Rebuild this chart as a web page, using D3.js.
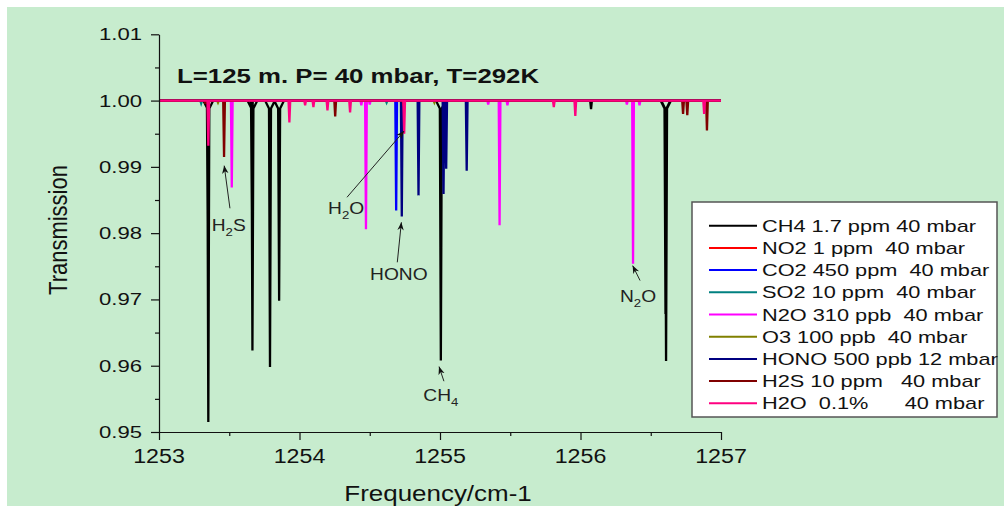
<!DOCTYPE html>
<html><head><meta charset="utf-8">
<script src="https://cdn.jsdelivr.net/npm/d3@7/dist/d3.min.js"></script>
<style>
html,body{margin:0;padding:0;background:#fff;}
svg text{font-family:"Liberation Sans",Arial,sans-serif;white-space:pre;}
</style></head>
<body>
<svg id="chart" width="1004" height="506"></svg>
<script>
// ---------- data ----------
const freqTicks = [1253, 1254, 1255, 1256, 1257];
const freqMinorTicks = [1253.5, 1254.5, 1255.5, 1256.5];
const transTicks = [0.95, 0.96, 0.97, 0.98, 0.99, 1.00, 1.01];
const transMinorTicks = [0.955, 0.965, 0.975, 0.985, 0.995, 1.005];

const seriesNames = ["CH4 1.7 ppm 40 mbar", "NO2 1 ppm  40 mbar", "CO2 450 ppm  40 mbar",
  "SO2 10 ppm  40 mbar", "N2O 310 ppb  40 mbar", "O3 100 ppb  40 mbar",
  "HONO 500 ppb 12 mbar", "H2S 10 ppm   40 mbar", "H2O  0.1%      40 mbar"];
const seriesColors = ["#000000", "#ff0000", "#0000ff", "#008080", "#ff00ff", "#808000", "#000080", "#800000", "#ff0080"];

// absorption lines: [frequency cm-1, minimum transmission]
const ch4Lines = [[1253.347, 0.9800], [1253.351, 0.9515], [1253.661, 0.9832], [1253.665, 0.9623],
  [1253.790, 0.9598], [1253.855, 0.9698], [1255.006, 0.9608], [1256.075, 0.9987], [1256.605, 0.9678], [1256.609, 0.9607]];
const no2Lines = [];
const co2Lines = [[1254.688, 0.9834]];
const so2Lines = [[1253.30, 0.9996], [1254.62, 0.9997]];
const n2oLines = [[1253.518, 0.9869], [1254.440, 0.9993], [1254.473, 0.9806], [1254.500, 0.9994],
  [1255.343, 0.9994], [1255.424, 0.9812], [1255.480, 0.9993], [1256.330, 0.9994], [1256.374, 0.9754], [1256.420, 0.9993]];
const o3Lines = [[1253.42, 0.9997], [1254.96, 0.9997]];
const honoLines = [[1254.728, 0.9825], [1254.847, 0.9857], [1255.025, 0.9859], [1255.044, 0.9897], [1255.190, 0.9894]];
const h2sLines = [[1253.330, 0.9995], [1253.463, 0.9915], [1254.254, 0.9976], [1254.740, 0.9992],
  [1256.730, 0.9980], [1256.760, 0.9978], [1256.900, 0.9955]];
const h2oLines = [[1253.351, 0.9932], [1253.928, 0.9967], [1254.040, 0.9993], [1254.099, 0.9990],
  [1254.199, 0.9985], [1254.360, 0.9982], [1254.745, 0.9950], [1255.810, 0.9990], [1255.963, 0.9977], [1256.880, 0.9980]];
const seriesLines = [ch4Lines, no2Lines, co2Lines, so2Lines, n2oLines, o3Lines, honoLines, h2sLines, h2oLines];

// annotations: label parts, text anchor position (freq, trans), arrow from -> to
const annotations = [
  {parts: ["H", "2", "S"], tf: 1253.375, tt: 0.98028, f0: 1253.505, t0: 0.98375, f1: 1253.464, t1: 0.99019},
  {parts: ["H", "2", "O"], tf: 1254.203, tt: 0.98285, f0: 1254.338, t0: 0.98541, f1: 1254.744, t1: 0.99540},
  {parts: ["HONO"], tf: 1254.502, tt: 0.97293, f0: 1254.696, t0: 0.97560, f1: 1254.725, t1: 0.98164},
  {parts: ["CH", "4", ""], tf: 1254.881, tt: 0.95463, f0: 1255.028, t0: 0.95766, f1: 1254.993, t1: 0.95987},
  {parts: ["N", "2", "O"], tf: 1256.281, tt: 0.96957, f0: 1256.424, t0: 0.97285, f1: 1256.371, t1: 0.97511}
];
const titleText = "L=125 m. P= 40 mbar, T=292K";
const xTitle = "Frequency/cm-1";
const yTitle = "Transmission";

// ---------- drawing ----------
const svg = d3.select("#chart");
svg.append("rect").attr("x", 7).attr("y", 7).attr("width", 997).attr("height", 499).attr("fill", "#c7ecce");

const x = d3.scaleLinear().domain([1253, 1257]).range([159, 721]);
const y = d3.scaleLinear().domain([0.95, 1.01]).range([432, 34.3]);

const defs = svg.append("defs");
defs.append("marker").attr("id", "arr").attr("viewBox", "0 0 10 10").attr("refX", 10).attr("refY", 5)
  .attr("markerWidth", 8).attr("markerHeight", 8).attr("markerUnits", "userSpaceOnUse").attr("orient", "auto")
  .append("path").attr("d", "M0,1 L10,5 L0,9 L3,5 z").attr("fill", "#111");

function stretched(parent, px, py, str, size, sx, anchor, weight) {
  return parent.append("text")
    .attr("transform", `translate(${px},${py}) scale(${sx},1)`)
    .attr("text-anchor", anchor || "start")
    .attr("font-size", size).attr("font-weight", weight || "normal")
    .attr("fill", "#111").text(str);
}

// spectra
const hw = 0.006;
function spectrum(lines) {
  const pts = [[1253, 1]];
  lines.slice().sort((a, b) => a[0] - b[0]).forEach(([f, t]) => {
    if (t < 0.975) {
      pts.push([f - 0.035, 1], [f - 0.007, 0.9988], [f, t], [f + 0.007, 0.9988], [f + 0.035, 1]);
    } else {
      pts.push([f - hw, 1], [f, t], [f + hw, 1]);
    }
  });
  pts.push([1257, 1]);
  return pts;
}
const line = d3.line().x(d => x(d[0])).y(d => y(d[1]));
const plot = svg.append("g");
seriesLines.forEach((lines, i) => {
  plot.append("path").attr("d", line(spectrum(lines))).attr("fill", "none")
    .attr("stroke", seriesColors[i]).attr("stroke-width", 2.3).attr("stroke-linejoin", "miter");
});

// axes
const yAxis = svg.append("g").attr("transform", `translate(${x(1253)},0)`)
  .call(d3.axisLeft(y).tickValues(transTicks).tickSize(8).tickSizeOuter(0).tickFormat(d3.format(".2f")));
svg.append("g").attr("transform", `translate(${x(1253)},0)`)
  .call(d3.axisLeft(y).tickValues(transMinorTicks).tickSize(4).tickSizeOuter(0).tickFormat(""))
  .select(".domain").remove();
const xAxis = svg.append("g").attr("transform", `translate(0,${y(0.95)})`)
  .call(d3.axisBottom(x).tickValues(freqTicks).tickSize(8).tickSizeOuter(0).tickFormat(d3.format("d")));
svg.append("g").attr("transform", `translate(0,${y(0.95)})`)
  .call(d3.axisBottom(x).tickValues(freqMinorTicks).tickSize(4).tickSizeOuter(0).tickFormat(""))
  .select(".domain").remove();
svg.selectAll(".domain, .tick line").attr("stroke", "#111").attr("stroke-width", 1.2);

// replace tick labels with stretched ones
yAxis.selectAll(".tick text").remove();
xAxis.selectAll(".tick text").remove();
transTicks.forEach(v => stretched(svg, 142, y(v) + 6, d3.format(".2f")(v), 16.5, 1.34, "end"));
freqTicks.forEach(v => stretched(svg, x(v), 463, d3.format("d")(v), 19.5, 1.19, "middle"));

// axis titles
stretched(svg, 438, 501, xTitle, 22, 1.18, "middle");
svg.append("text").attr("transform", `translate(67,230) scale(1.18,1) rotate(-90)`)
  .attr("text-anchor", "middle").attr("font-size", 22).attr("fill", "#111").text(yTitle);

// title
stretched(svg, 177, 83, titleText, 20, 1.29, "start", "bold");

// annotations
annotations.forEach(a => {
  svg.append("line").attr("x1", x(a.f0)).attr("y1", y(a.t0)).attr("x2", x(a.f1)).attr("y2", y(a.t1))
    .attr("stroke", "#222").attr("stroke-width", 1).attr("marker-end", "url(#arr)");
  const t = stretched(svg, x(a.tf), y(a.tt), "", 16, 1.2, "start").attr("fill", "#222");
  if (a.parts.length === 1) { t.text(a.parts[0]); }
  else {
    t.append("tspan").text(a.parts[0]);
    t.append("tspan").attr("font-size", 11).attr("dy", 5).text(a.parts[1]);
    t.append("tspan").attr("dy", -5).text(a.parts[2]);
  }
});

// legend
const lg = svg.append("g");
lg.append("rect").attr("x", 692).attr("y", 202).attr("width", 305).attr("height", 215)
  .attr("fill", "#fff").attr("stroke", "#555").attr("stroke-width", 1.5);
seriesNames.forEach((name, i) => {
  const ly = 225.7 + i * 22.2;
  lg.append("line").attr("x1", 709).attr("x2", 757).attr("y1", ly).attr("y2", ly)
    .attr("stroke", seriesColors[i]).attr("stroke-width", 2);
  stretched(lg, 762, ly + 6, name, 17, 1.28, "start");
});
</script>
</body></html>
